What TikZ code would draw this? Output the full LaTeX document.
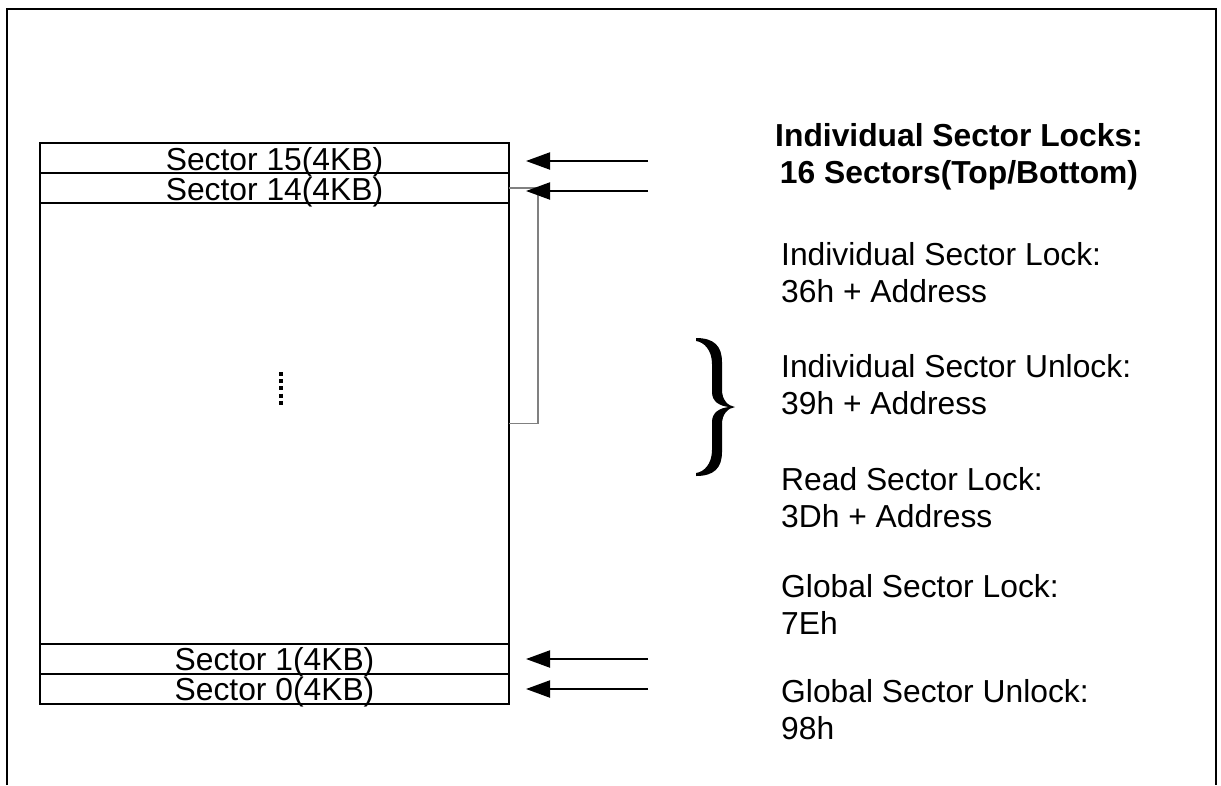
\documentclass[tikz,border=0pt]{standalone}
\usepackage{fontspec}
\setmainfont{Liberation Sans}
\usetikzlibrary{arrows.meta}
\begin{document}
\begin{tikzpicture}[x=1pt,y=-1pt,
  frame/.style={line width=2pt},
  row/.style={draw, line width=2pt, minimum width=469pt, minimum height=30pt, inner sep=0pt, outer sep=0pt,
    font=\fontsize{31.8}{36}\selectfont, text height=26pt, text depth=2pt},
  arr/.style={line width=2pt, -{Triangle[length=24pt,width=17pt]}},
  conn/.style={draw=black!50, line width=1.5pt},
  txt/.style={font=\fontsize{31.8}{36.6}\selectfont, inner sep=0pt, anchor=base west},
  ttl/.style={font=\bfseries\fontsize{31.8}{36.6}\selectfont, inner sep=0pt, anchor=base}]
\useasboundingbox (0,0) rectangle (1221,785);
\draw[frame] (7,785) -- (7,9) -- (1216,9) -- (1216,785);

% memory map rows
\node[row] (s15) at (274.5,158) {Sector 15(4KB)};
\node[row] (s14) at (274.5,188) {Sector 14(4KB)};
\node[row, minimum height=440.5pt] (mid) at (274.5,423.25) {};
\node[row] (s1) at (274.5,658.5) {Sector 1(4KB)};
\node[row] (s0) at (274.5,688.5) {Sector 0(4KB)};

% vertical dots
\coordinate (d1) at (281,372);
\coordinate (d2) at (281,406);
\draw[line width=4pt, dash pattern=on 4pt off 3.2pt] (d1) -- (d2);

% gray connector
\draw[conn] (s14.east) -- ++(29,0) |- (mid.east);

% arrows
\coordinate (a15) at (648,161); \coordinate (t15) at (526,161);
\coordinate (a14) at (648,191); \coordinate (t14) at (526,191);
\coordinate (a1) at (648,659);  \coordinate (t1) at (526,659);
\coordinate (a0) at (648,689);  \coordinate (t0) at (526,689);
\draw[arr] (a15) -- (t15);
\draw[arr] (a14) -- (t14);
\draw[arr] (a1) -- (t1);
\draw[arr] (a0) -- (t0);

% brace
\fill[shift={(696,338)}] (0,0) .. controls (18,0) and (26,8) .. (26,24) -- (26,52)
  .. controls (26,62) and (32,68) .. (39,69)
  .. controls (32,70) and (26,76) .. (26,86) -- (26,114)
  .. controls (26,130) and (18,138) .. (0,138) -- (0,135)
  .. controls (8,134) and (16,126) .. (16,112) -- (16,84)
  .. controls (16,74) and (24,70) .. (33,69)
  .. controls (24,68) and (16,64) .. (16,54) -- (16,26)
  .. controls (16,12) and (8,4) .. (0,3) -- cycle;

% titles
\node[ttl] (title1) at (959,146.4) {Individual Sector Locks:};
\node[ttl] (title2) at (959,183.4) {16 Sectors(Top/Bottom)};

% commands
\node[txt] (l1a) at (781,265) {Individual Sector Lock:};
\node[txt] (l1b) at (781,302) {36h + Address};
\node[txt] (l2a) at (781,377) {Individual Sector Unlock:};
\node[txt] (l2b) at (781,414) {39h + Address};
\node[txt] (l3a) at (781,490) {Read Sector Lock:};
\node[txt] (l3b) at (781,527) {3Dh + Address};
\node[txt] (l4a) at (781,597) {Global Sector Lock:};
\node[txt] (l4b) at (781,634) {7Eh};
\node[txt] (l5a) at (781,702) {Global Sector Unlock:};
\node[txt] (l5b) at (781,739) {98h};
\end{tikzpicture}
\end{document}
